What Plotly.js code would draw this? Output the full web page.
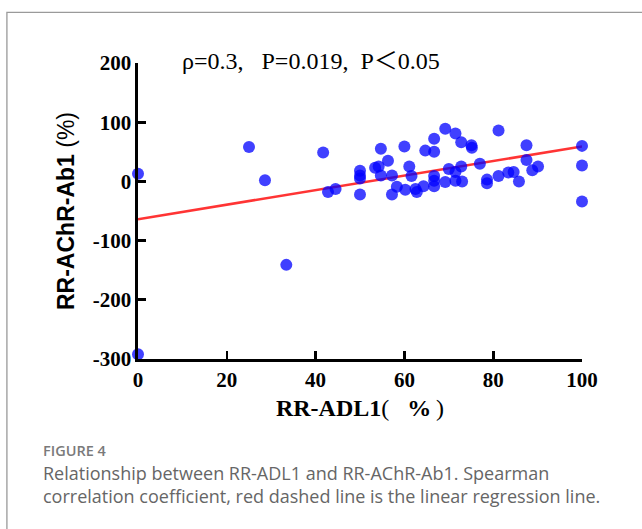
<!DOCTYPE html>
<html>
<head>
<meta charset="utf-8">
<script src="https://cdn.plot.ly/plotly-3.0.1.min.js"></script>
<style>
  html, body { margin: 0; padding: 0; background: #fff; }
  #chart { width: 642px; height: 529px; }
</style>
</head>
<body>
<div id="chart"></div>
<script>
// RR-ADL1 (%) values
const adlValues = [0, 0, 25, 28.6, 33.4, 41.7, 42.8, 44.5, 50, 50, 50, 50,
  53.4, 54.2, 54.7, 54.7, 56.3, 57.2, 57.2, 58.3, 60, 60.2, 61.1, 61.6, 62.5, 62.8,
  64.3, 64.7, 66.7, 66.7, 66.7, 66.7, 66.7, 69.2, 69.2, 70, 71.5, 71.5, 71.5,
  72.8, 72.8, 73, 75.1, 75.2, 77, 78.6, 78.6, 81.2, 81.2, 83.4, 84.6, 85.8,
  87.5, 87.5, 88.8, 90.1, 100, 100, 100];
// RR-AChR-Ab1 (%) values
const achrValues = [13, -292, 58, 2, -141, 49, -18, -13, 18, 10, 5, -22,
  23, 25, 55, 10, 35, 10, -22, -9, 59, -14, 25, 9, -13, -18,
  -8, 52, 72, 50, 9, 1, -8, 89, -1, 21, 81, 16, 1,
  66, 25, 0, 61, 57, 30, 3, -3, 86, 9, 15, 16, 0,
  61, 36, 19, 25, 60, 27, -34];
// Regression line end points
const regX = [0, 100];
const regY = [-64, 59];
const xTicks = [0, 20, 40, 60, 80, 100];
const yTicks = [-300, -200, -100, 0, 100, 200];

const L = 138, R = 581.7, T = 62.6, B = 358.6, W = 642, H = 529;
const px = v => (v - L) / (R - L);
const py = v => (B - v) / (B - T);

const serifBold = { family: 'Liberation Serif, Times New Roman, serif', size: 21, color: '#000', weight: 'bold' };
const capFont = 'Open Sans, Noto Sans, sans-serif';

const traces = [
  { x: regX, y: regY, type: 'scatter', mode: 'lines',
    line: { color: 'rgba(255,30,30,0.9)', width: 2.6 }, hoverinfo: 'skip', cliponaxis: false },
  { x: adlValues, y: achrValues, type: 'scatter', mode: 'markers',
    marker: { size: 12, color: 'rgba(0,0,255,0.75)', line: { width: 0 } }, cliponaxis: false }
];

const layout = {
  width: W, height: H,
  margin: { l: L, r: W - R, t: T, b: H - B, pad: 0 },
  paper_bgcolor: '#fff', plot_bgcolor: '#fff',
  showlegend: false,
  xaxis: {
    range: [0, 100], tickvals: xTicks, ticktext: xTicks.map(String),
    showline: true, linecolor: '#000', linewidth: 2.6,
    ticks: 'inside', ticklen: 8, tickwidth: 2.6, tickcolor: '#000',
    showgrid: false, zeroline: false, tickfont: serifBold, fixedrange: true,
    title: { text: 'RR-ADL1<span style="font-weight:normal">(</span>\u00A0\u00A0\u00A0%\u2009<span style="font-weight:normal">)</span>',
      font: { family: 'Liberation Serif, Times New Roman, serif', size: 24, color: '#000', weight: 'bold' }, standoff: 9 }
  },
  yaxis: {
    range: [-300, 200], tickvals: yTicks, ticktext: yTicks.map(String),
    showline: true, linecolor: '#000', linewidth: 2.6,
    ticks: 'inside', ticklen: 8, tickwidth: 2.6, tickcolor: '#000',
    showgrid: false, zeroline: false, tickfont: serifBold, fixedrange: true,
    title: { text: 'RR-AChR-Ab1 <span style="font-weight:normal">(%)</span>',
      font: { family: 'Liberation Sans, Arial, sans-serif', size: 23, color: '#000', weight: 'bold' }, standoff: 12 }
  },
  shapes: [
    { type: 'rect', xref: 'paper', yref: 'paper',
      x0: px(7), x1: px(660), y0: py(560), y1: py(12),
      line: { color: '#9a9a9a', width: 1.3 }, fillcolor: 'rgba(0,0,0,0)', layer: 'below' }
  ],
  annotations: [
    { xref: 'paper', yref: 'paper', x: px(180), y: py(61), xanchor: 'left', yanchor: 'middle',
      showarrow: false, text: 'ρ=0.3,\u00A0\u00A0\u00A0P=0.019,\u00A0\u00A0P＜0.05',
      font: { family: 'Liberation Serif, Times New Roman, Noto Sans CJK SC, serif', size: 24, color: '#000' } },
    { xref: 'paper', yref: 'paper', x: px(41), y: py(450), xanchor: 'left', yanchor: 'middle',
      showarrow: false, text: 'FIGURE 4',
      font: { family: capFont, size: 14.5, color: '#7a7a7a', weight: 600 } },
    { xref: 'paper', yref: 'paper', x: px(41), y: py(473), xanchor: 'left', yanchor: 'middle',
      showarrow: false, text: 'Relationship between RR-ADL1 and RR-AChR-Ab1. Spearman',
      font: { family: capFont, size: 18, color: '#666' } },
    { xref: 'paper', yref: 'paper', x: px(41), y: py(496), xanchor: 'left', yanchor: 'middle',
      showarrow: false, text: 'correlation coefficient, red dashed line is the linear regression line.',
      font: { family: capFont, size: 18, color: '#666' } }
  ]
};

Plotly.newPlot('chart', traces, layout, { staticPlot: true, displayModeBar: false });
</script>
</body>
</html>
